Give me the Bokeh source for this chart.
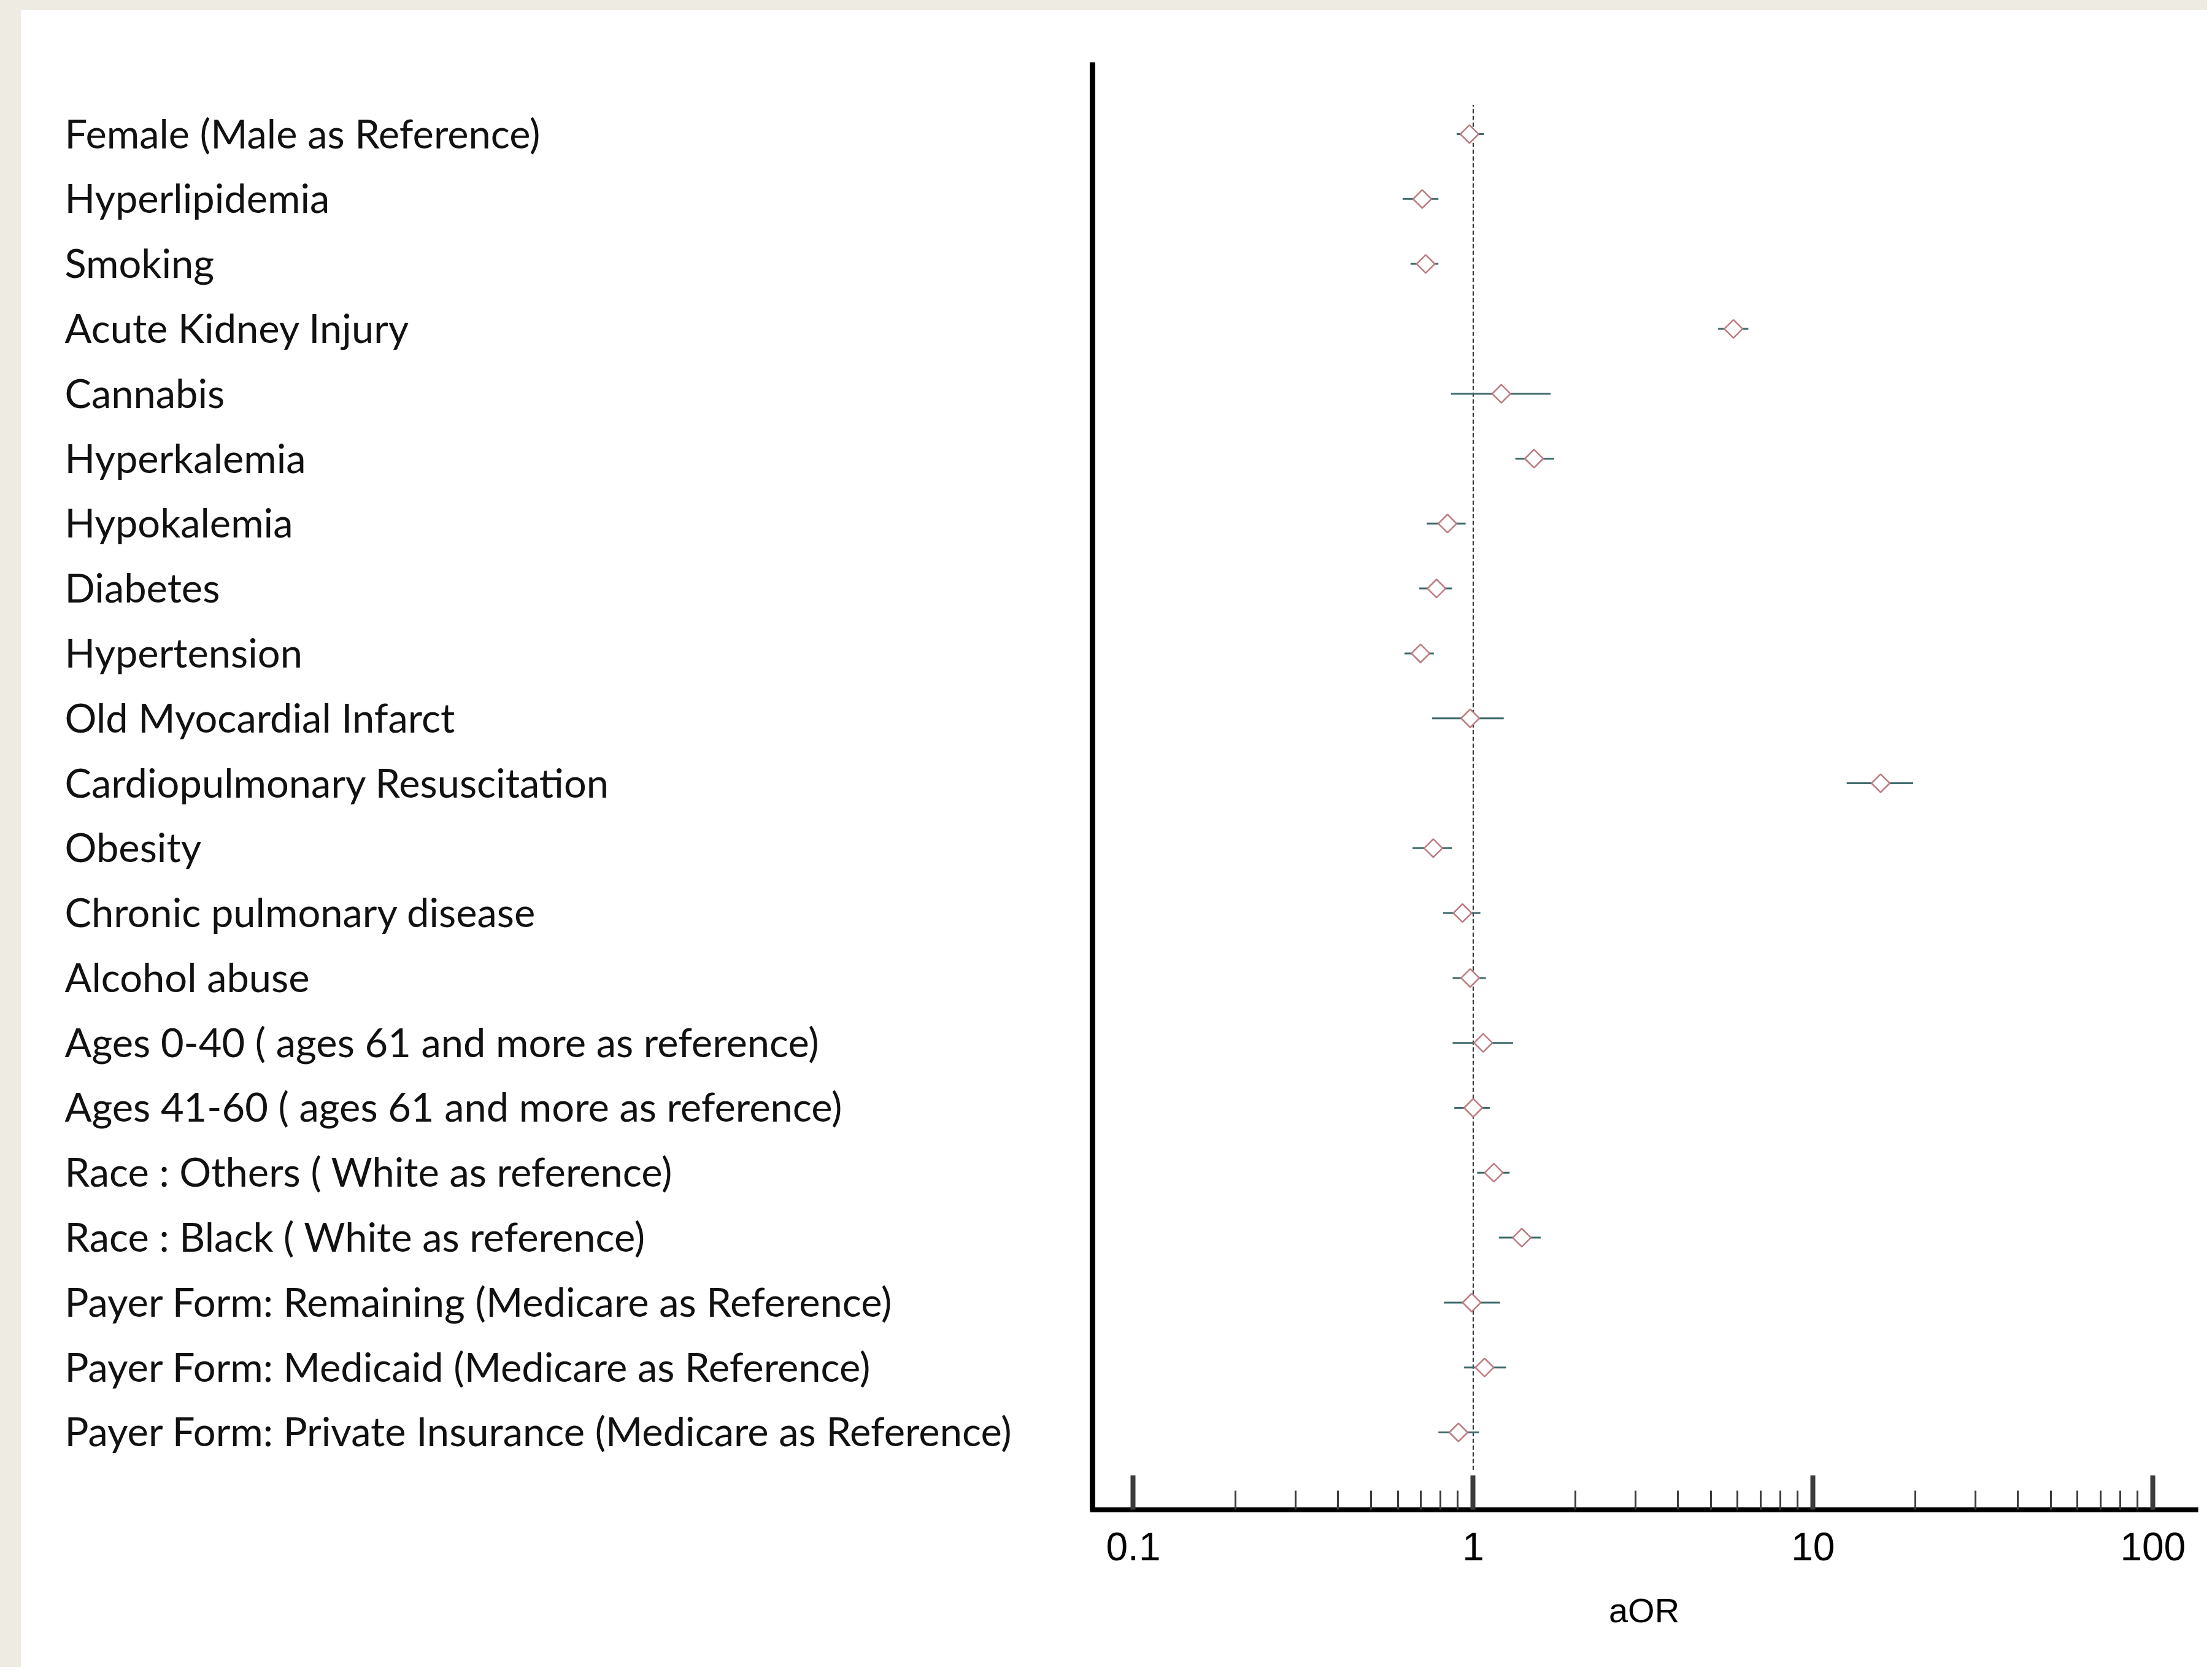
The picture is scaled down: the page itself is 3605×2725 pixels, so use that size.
import numpy as np
from bokeh.plotting import figure
from bokeh.models import Range1d, FixedTicker, CustomJSTickFormatter, ColumnDataSource, Div
from bokeh.layouts import row, column
from bokeh.core.properties import value
from bokeh.embed import file_html
from bokeh.resources import INLINE

# ---------------- data ----------------
factors = [
    "Female (Male as Reference)",
    "Hyperlipidemia",
    "Smoking",
    "Acute Kidney Injury",
    "Cannabis",
    "Hyperkalemia",
    "Hypokalemia",
    "Diabetes",
    "Hypertension",
    "Old Myocardial Infarct",
    "Cardiopulmonary Resuscitation",
    "Obesity",
    "Chronic pulmonary disease",
    "Alcohol abuse",
    "Ages 0-40 ( ages 61 and more as reference)",
    "Ages 41-60 ( ages 61 and more as reference)",
    "Race : Others ( White as reference)",
    "Race : Black ( White as reference)",
    "Payer Form: Remaining (Medicare as Reference)",
    "Payer Form: Medicaid (Medicare as Reference)",
    "Payer Form: Private Insurance (Medicare as Reference)",
]
aor = [0.975, 0.708, 0.725, 5.83, 1.21, 1.51, 0.84, 0.78, 0.70, 0.98, 15.8,
       0.763, 0.93, 0.98, 1.07, 1.00, 1.15, 1.39, 0.99, 1.08, 0.905]
ci_low = [0.894, 0.62, 0.654, 5.25, 0.86, 1.33, 0.73, 0.694, 0.628, 0.757, 12.56,
          0.663, 0.816, 0.87, 0.87, 0.88, 1.027, 1.19, 0.82, 0.94, 0.79]
ci_high = [1.075, 0.79, 0.79, 6.45, 1.69, 1.73, 0.95, 0.867, 0.766, 1.23, 19.7,
           0.866, 1.05, 1.09, 1.31, 1.12, 1.28, 1.58, 1.20, 1.25, 1.04]

tick_values = [0.1, 1, 10, 100]
tick_labels = ["0.1", "1", "10", "100"]
minor_tick_values = [0.2, 0.3, 0.4, 0.5, 0.6, 0.7, 0.8, 0.9,
                     2, 3, 4, 5, 6, 7, 8, 9,
                     20, 30, 40, 50, 60, 70, 80, 90]
x_axis_title = "aOR"
reference_value = 1.0

# ---------------- styles ----------------
BEIGE = "#EEECE2"
DIAMOND = "#BE7A80"
WHISKER = "#3F6A6A"
REFLINE = "#2a2f33"

n = len(factors)
ypos = [n - 1 - i for i in range(n)]
src = ColumnDataSource(dict(label=factors, aor=aor, lo=ci_low, hi=ci_high, y=ypos))

y_range = Range1d(-1.191, n - 1 + 1.106)

FIG_H = 2701
TOP_B = 85
BOT_B = 257

# ---------------- right: forest plot ----------------
pr = figure(width=1837, height=FIG_H, x_axis_type="log",
            x_range=Range1d(0.07585, 133.6), y_range=y_range,
            output_backend="svg", toolbar_location=None,
            min_border_left=20, min_border_right=19,
            min_border_top=TOP_B, min_border_bottom=BOT_B)
pr.outline_line_color = None
pr.grid.visible = False
pr.background_fill_color = "white"
pr.border_fill_color = "white"

pr.segment(x0=[reference_value], x1=[reference_value], y0=[-0.58], y1=[n - 1 + 0.45],
           line_dash="7 4", line_width=2, line_color=REFLINE)
pr.segment(x0="lo", x1="hi", y0="y", y1="y", source=src,
           line_color=WHISKER, line_width=3)
pr.scatter(x="aor", y="y", source=src, marker="square", angle=np.pi / 4,
           size=21, fill_color="white", line_color=DIAMOND, line_width=2.5)

xa = pr.xaxis[0]
xa.ticker = FixedTicker(ticks=tick_values, minor_ticks=minor_tick_values)
xa.formatter = CustomJSTickFormatter(
    args=dict(vals=tick_values, labs=tick_labels),
    code="""
    for (let i = 0; i < vals.length; i++) {
        if (Math.abs(vals[i] - tick) <= 1e-9 * Math.max(1, Math.abs(tick))) return labs[i];
    }
    return "";
    """)
xa.axis_line_width = 8
xa.axis_line_color = "black"
xa.axis_line_cap = "square"
xa.major_tick_in = 56
xa.major_tick_out = 0
xa.major_tick_line_width = 8
xa.major_tick_line_color = "#3c3c3c"
xa.minor_tick_in = 31
xa.minor_tick_out = 0
xa.minor_tick_line_width = 3
xa.minor_tick_line_color = "#3c3c3c"
xa.major_label_text_font = "Liberation Sans"
xa.major_label_text_font_size = "64px"
xa.major_label_text_color = "black"
xa.major_label_standoff = 37
xa.axis_label = x_axis_title
xa.axis_label_text_font = "Liberation Sans"
xa.axis_label_text_font_size = "56px"
xa.axis_label_text_font_style = "normal"
xa.axis_label_text_color = "black"
xa.axis_label_standoff = 47

ya = pr.yaxis[0]
ya.ticker = FixedTicker(ticks=[])
ya.major_label_text_font_size = "0px"
ya.major_tick_line_color = None
ya.minor_tick_line_color = None
ya.axis_line_width = 9
ya.axis_line_color = "black"

# ---------------- left: row labels ----------------
pl = figure(width=1726, height=FIG_H, x_range=Range1d(0, 1726), y_range=y_range,
            output_backend="svg", toolbar_location=None,
            x_axis_location=None, y_axis_location=None,
            min_border_left=0, min_border_right=0,
            min_border_top=TOP_B, min_border_bottom=BOT_B)
pl.outline_line_color = None
pl.grid.visible = False
pl.text(x=71, y="y", text="label", source=src,
        text_font=value("Lato"), text_font_size="65px",
        text_baseline="alphabetic", text_align="left", y_offset=-2,
        text_color="#111111")

top_strip = Div(text="", width=3597, height=16, margin=0,
                styles={"background-color": BEIGE})
left_strip = Div(text="", width=34, height=FIG_H, margin=0,
                 styles={"background-color": BEIGE})

layout = column(top_strip, row(left_strip, pl, pr, spacing=0), spacing=0)

open("out.html", "w").write(file_html(layout, INLINE))
